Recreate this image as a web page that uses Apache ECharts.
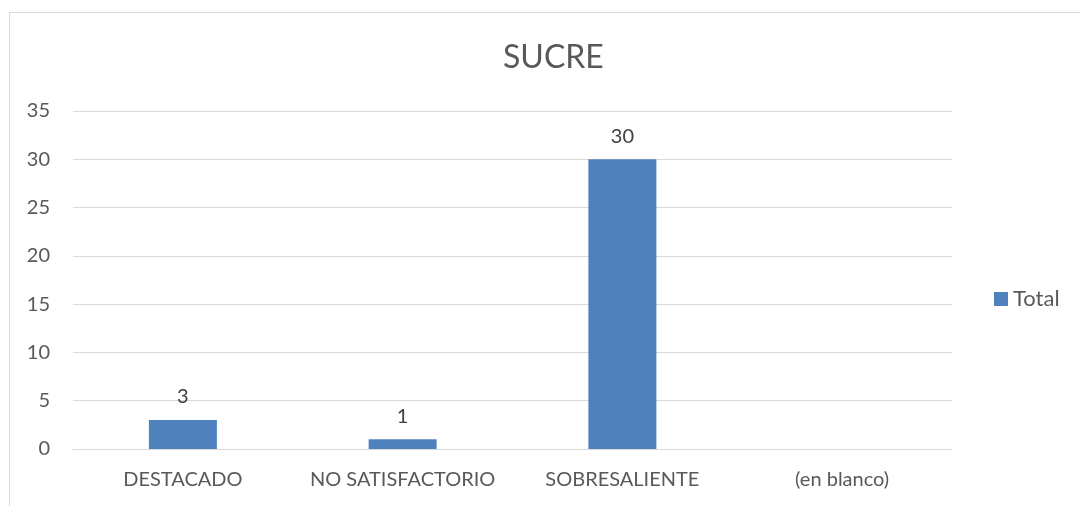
<!DOCTYPE html>
<html>
<head>
<meta charset="utf-8">
<script src="https://cdn.jsdelivr.net/npm/echarts@6/dist/echarts.min.js"></script>
<style>
  html, body { margin: 0; padding: 0; background: #fff; }
  #echart { width: 1080px; height: 506px; }
</style>
</head>
<body>
<div id="echart"></div>
<script>
// datos del grafico
const categories = ['DESTACADO', 'NO SATISFACTORIO', 'SOBRESALIENTE', '(en blanco)']
const totals = [3, 1, 30, null]
const seriesName = 'Total'
const chartTitle = 'SUCRE'

const textColor = '#595959'
const font = 'Lato, "Open Sans", sans-serif'

const chart = echarts.init(document.getElementById('echart'))
chart.setOption({
  animation: false,
  textStyle: { fontFamily: font },
  graphic: [{
    type: 'rect',
    shape: { x: 9.5, y: 12.5, width: 1200, height: 600 },
    style: { fill: 'none', stroke: '#d9d9d9', lineWidth: 1 },
    silent: true
  }],
  title: {
    text: chartTitle,
    left: 498,
    top: 37,
    textStyle: { color: textColor, fontSize: 32, fontWeight: 'normal', fontFamily: font }
  },
  legend: {
    data: [seriesName],
    left: 994,
    top: 288,
    padding: 0,
    icon: 'rect',
    itemWidth: 14,
    itemHeight: 14,
    itemGap: 5,
    textStyle: { color: textColor, fontSize: 22, fontFamily: font }
  },
  grid: {
    left: 73,
    right: 128,
    top: 111,
    bottom: 57,
    containLabel: false
  },
  xAxis: {
    type: 'category',
    data: categories,
    axisTick: { show: false },
    axisLine: { show: true, lineStyle: { color: '#d9d9d9', width: 1 } },
    axisLabel: { color: textColor, fontSize: 20, margin: 21, interval: 0, hideOverlap: false },
    splitLine: { show: false }
  },
  yAxis: {
    type: 'value',
    min: 0,
    max: 35,
    interval: 5,
    axisTick: { show: false },
    axisLine: { show: false },
    axisLabel: { color: textColor, fontSize: 20, margin: 23 },
    splitLine: { show: true, lineStyle: { color: '#d9d9d9', width: 1 } }
  },
  series: [{
    name: seriesName,
    type: 'bar',
    data: totals,
    barWidth: 68,
    itemStyle: { color: '#4f81bd' },
    label: {
      show: true,
      position: 'top',
      distance: 13,
      color: '#404040',
      fontSize: 20
    }
  }]
})
</script>
</body>
</html>
